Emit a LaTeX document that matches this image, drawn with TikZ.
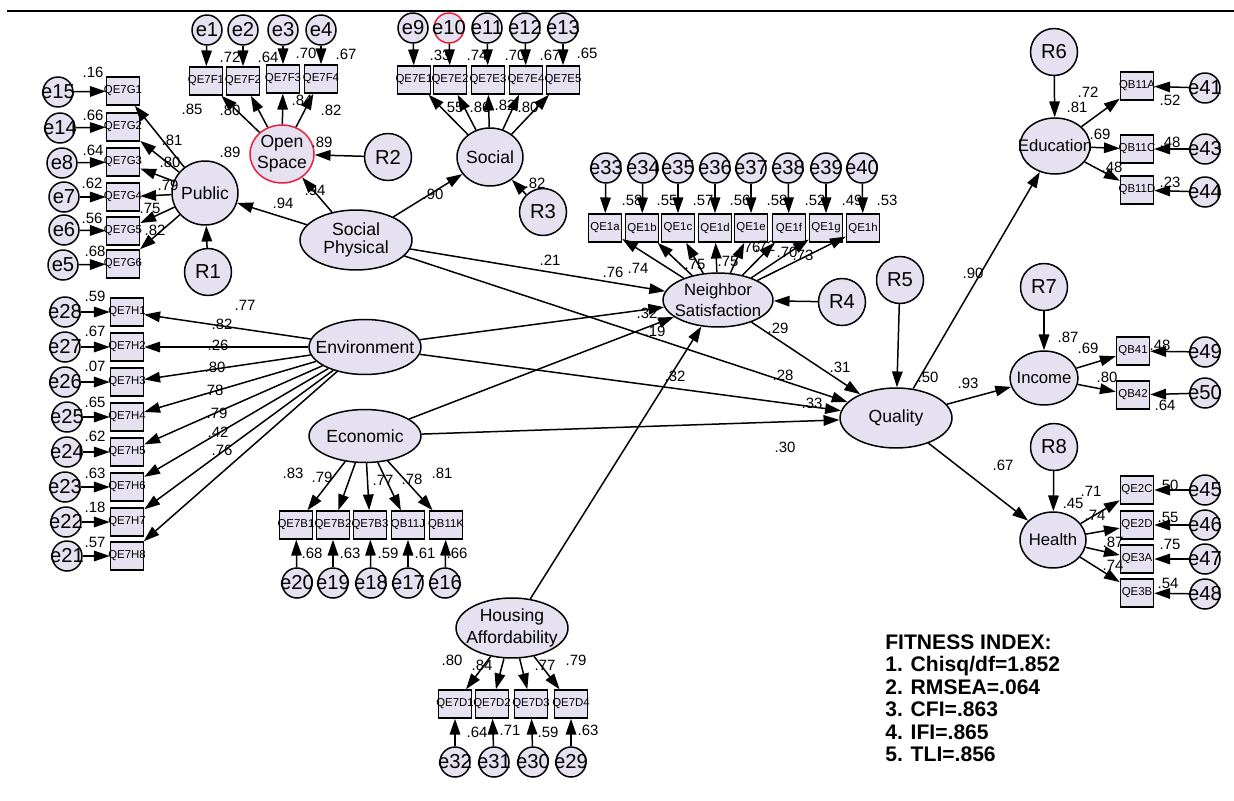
\documentclass[tikz,border=0pt]{standalone}
\usepackage{fontspec}
\setmainfont{Liberation Sans}
\usepackage{tikz}
\usetikzlibrary{shapes.geometric,arrows.meta}

\definecolor{amosfill}{RGB}{230,225,240}
\definecolor{amosred}{RGB}{232,32,64}

\tikzset{
  >={Triangle[length=9pt,width=6pt]},
  nosize/.style={execute at begin node={\hbox to 0pt\bgroup\hss},
                 execute at end node={\hss\egroup}},
  latent/.style={ellipse,draw,fill=amosfill,line width=0.85pt,inner sep=0pt,nosize,
                 font=\fontsize{10}{12}\selectfont},
  obs/.style={rectangle,draw,fill=amosfill,line width=0.85pt,inner sep=0pt,nosize,
              minimum width=0.66cm,minimum height=0.56cm,font=\fontsize{6.5}{7}\selectfont},
  err/.style={circle,draw,fill=amosfill,line width=0.85pt,inner sep=0pt,nosize,
              minimum size=0.6cm,font=\fontsize{11.5}{13}\selectfont},
  resid/.style={circle,draw,fill=amosfill,line width=0.85pt,inner sep=0pt,nosize,
                minimum size=0.94cm,font=\fontsize{11.5}{13}\selectfont},
  coef/.style={inner sep=0pt,font=\fontsize{8.5}{9}\selectfont},
  link/.style={->,line width=0.85pt},
}

\begin{document}
\begin{tikzpicture}[x=0.02cm,y=-0.02cm]
      \useasboundingbox (0,0) rectangle (1234,801);
      \draw[line width=1.5pt] (7,11) -- (1234,11);

      % Open Space
      \node[err] (e1) at (207,30) {e1};
      \node[err] (e2) at (243,30) {e2};
      \node[err] (e3) at (283,30) {e3};
      \node[err] (e4) at (321,30) {e4};
      \node[obs] (f1) at (206,81) {QE7F1};
      \node[obs] (f2) at (243,81) {QE7F2};
      \node[obs] (f3) at (283,79) {QE7F3};
      \node[obs] (f4) at (321,79) {QE7F4};
      \node[latent,draw=amosred,minimum width=1.28cm,minimum height=1.16cm] (osp) at (282,154) {\shortstack{Open\\Space}};
      \node[resid] (r2) at (388,157) {R2};
      \draw[link] (osp) edge (f1) (osp) edge (f2) (osp) edge (f3) (osp) edge (f4);
      \draw[link] (e1) edge (f1) (e2) edge (f2) (e3) edge (f3) (e4) edge (f4);
      \node[coef] (t1) at (230,57) {.72};
      \node[coef] (t2) at (268,57) {.64};
      \node[coef] (t3) at (306,53) {.70};
      \node[coef] (t4) at (346,54) {.67};
      \node[coef] (t5) at (192,109) {.85};
      \node[coef] (t6) at (230,110) {.80};
      \node[coef] (t7) at (302,100) {.84};
      \node[coef] (t8) at (331,110) {.82};
      \node[coef] (t9) at (322,142) {.89};

      % Public
      \node[obs] (g1) at (123,91) {QE7G1};
      \node[obs] (g2) at (123,127) {QE7G2};
      \node[obs] (g3) at (123,162) {QE7G3};
      \node[obs] (g4) at (123,197) {QE7G4};
      \node[obs] (g5) at (123,231) {QE7G5};
      \node[obs] (g6) at (123,264) {QE7G6};
      \node[err] (e15) at (58,92) {e15};
      \node[err] (e14) at (60,128) {e14};
      \node[err] (e8) at (62,163) {e8};
      \node[err] (e7) at (64,197) {e7};
      \node[err] (e6) at (64,230) {e6};
      \node[err] (e5) at (63,265) {e5};
      \node[latent,minimum width=1.32cm,minimum height=1.28cm] (pub) at (205,193) {Public};
      \node[resid] (r1) at (208,272) {R1};
      \draw[link] (pub) edge (g1) (pub) edge (g2) (pub) edge (g3) (pub) edge (g4) (pub) edge (g5) (pub) edge (g6);
      \draw[link] (e15) edge (g1) (e14) edge (g2) (e8) edge (g3) (e7) edge (g4) (e6) edge (g5) (e5) edge (g6);
      \node[coef] (t10) at (93,72) {.16};
      \node[coef] (t11) at (93,115) {.66};
      \node[coef] (t12) at (93,150) {.64};
      \node[coef] (t13) at (92,183) {.62};
      \node[coef] (t14) at (92,218) {.56};
      \node[coef] (t15) at (95,251) {.68};
      \node[coef] (t16) at (172,140) {.81};
      \node[coef] (t17) at (170,162) {.80};
      \node[coef] (t18) at (168,185) {.79};
      \node[coef] (t19) at (150,208) {.75};
      \node[coef] (t20) at (155,230) {.82};
      \node[coef] (t21) at (230,152) {.89};

      % Social
      \node[err] (e9) at (413,28) {e9};
      \node[err,draw=amosred] (e10) at (449,28) {e10};
      \node[err] (e11) at (487,28) {e11};
      \node[err] (e12) at (525,28) {e12};
      \node[err] (e13) at (563,28) {e13};
      \node[obs] (s1) at (414,80) {QE7E1};
      \node[obs] (s2) at (450,80) {QE7E2};
      \node[obs] (s3) at (488,80) {QE7E3};
      \node[obs] (s4) at (526,80) {QE7E4};
      \node[obs] (s5) at (563,80) {QE7E5};
      \node[latent,minimum width=1.32cm,minimum height=1.16cm] (soc) at (490,157) {Social};
      \node[resid] (r3) at (543,212) {R3};
      \draw[link] (soc) edge (s1) (soc) edge (s2) (soc) edge (s3) (soc) edge (s4) (soc) edge (s5);
      \draw[link] (e9) edge (s1) (e10) edge (s2) (e11) edge (s3) (e12) edge (s4) (e13) edge (s5);
      \node[coef] (t22) at (440,55) {.33};
      \node[coef] (t23) at (477,55) {.74};
      \node[coef] (t24) at (515,55) {.70};
      \node[coef] (t25) at (550,55) {.67};
      \node[coef] (t26) at (587,53) {.65};
      \node[coef] (t27) at (453,107) {.55};
      \node[coef] (t28) at (480,107) {.86};
      \node[coef] (t29) at (505,105) {.82};
      \node[coef] (t30) at (528,107) {.80};
      \node[coef] (t31) at (535,183) {.82};

      % Social Physical
      \node[latent,minimum width=2.24cm,minimum height=1.2cm] (sp) at (356,240) {\shortstack{Social\\Physical}};
      \node[coef] (t32) at (283,203) {.94};
      \node[coef] (t33) at (315,190) {.94};
      \node[coef] (t34) at (433,194) {.90};

      % Neighbor Satisfaction
      \node[err] (e33) at (606,168) {e33};
      \node[err] (e34) at (643,168) {e34};
      \node[err] (e35) at (678,168) {e35};
      \node[err] (e36) at (715,168) {e36};
      \node[err] (e37) at (751,168) {e37};
      \node[err] (e38) at (788,168) {e38};
      \node[err] (e39) at (826,168) {e39};
      \node[err] (e40) at (862,168) {e40};
      \node[obs] (n1) at (605,228) {QE1a};
      \node[obs] (n2) at (642,228) {QE1b};
      \node[obs] (n3) at (678,228) {QE1c};
      \node[obs] (n4) at (715,228) {QE1d};
      \node[obs] (n5) at (751,228) {QE1e};
      \node[obs] (n6) at (789,228) {QE1f};
      \node[obs] (n7) at (826,228) {QE1g};
      \node[obs] (n8) at (863,228) {QE1h};
      \node[latent,minimum width=2.2cm,minimum height=1.08cm,font=\fontsize{9.5}{11}\selectfont] (nbr) at (718,300) {\shortstack{Neighbor\\Satisfaction}};
      \node[resid] (r4) at (842,302) {R4};
      \draw[link] (nbr) edge (n1) (nbr) edge (n2) (nbr) edge (n3) (nbr) edge (n4) (nbr) edge (n5) (nbr) edge (n6) (nbr) edge (n7) (nbr) edge (n8);
      \draw[link] (e33) edge (n1) (e34) edge (n2) (e35) edge (n3) (e36) edge (n4) (e37) edge (n5) (e38) edge (n6) (e39) edge (n7) (e40) edge (n8);
      \node[coef] (t35) at (632,200) {.58};
      \node[coef] (t36) at (667,200) {.55};
      \node[coef] (t37) at (703,200) {.57};
      \node[coef] (t38) at (740,200) {.56};
      \node[coef] (t39) at (777,200) {.58};
      \node[coef] (t40) at (815,200) {.52};
      \node[coef] (t41) at (852,200) {.49};
      \node[coef] (t42) at (887,200) {.53};
      \node[coef] (t43) at (613,272) {.76};
      \node[coef] (t44) at (638,268) {.74};
      \node[coef] (t45) at (695,264) {.75};
      \node[coef] (t46) at (728,261) {.75};
      \node[coef] (t47) at (750,247) {.76};
      \node[coef] (t48) at (765,246) {.72};
      \node[coef] (t49) at (787,252) {.70};
      \node[coef] (t50) at (803,255) {.73};

      % Environment
      \node[obs] (h1) at (127,312) {QE7H1};
      \node[obs] (h2) at (127,347) {QE7H2};
      \node[obs] (h3) at (127,382) {QE7H3};
      \node[obs] (h4) at (127,417) {QE7H4};
      \node[obs] (h5) at (127,452) {QE7H5};
      \node[obs] (h6) at (127,487) {QE7H6};
      \node[obs] (h7) at (127,522) {QE7H7};
      \node[obs] (h8) at (127,556) {QE7H8};
      \node[err] (e28) at (65,312) {e28};
      \node[err] (e27) at (65,347) {e27};
      \node[err] (e26) at (65,382) {e26};
      \node[err] (e25) at (67,417) {e25};
      \node[err] (e24) at (67,452) {e24};
      \node[err] (e23) at (65,487) {e23};
      \node[err] (e22) at (66,522) {e22};
      \node[err] (e21) at (67,556) {e21};
      \node[latent,minimum width=2.24cm,minimum height=1.1cm] (env) at (365,347) {Environment};
      \draw[link] (env) edge (h1) (env) edge (h2) (env) edge (h3) (env) edge (h4) (env) edge (h5) (env) edge (h6) (env) edge (h7) (env) edge (h8);
      \draw[link] (e28) edge (h1) (e27) edge (h2) (e26) edge (h3) (e25) edge (h4) (e24) edge (h5) (e23) edge (h6) (e22) edge (h7) (e21) edge (h8);
      \node[coef] (t51) at (95,296) {.59};
      \node[coef] (t52) at (95,331) {.67};
      \node[coef] (t53) at (95,366) {.07};
      \node[coef] (t54) at (95,402) {.65};
      \node[coef] (t55) at (95,436) {.62};
      \node[coef] (t56) at (95,473) {.63};
      \node[coef] (t57) at (95,507) {.18};
      \node[coef] (t58) at (95,542) {.57};
      \node[coef] (t59) at (245,305) {.77};
      \node[coef] (t60) at (222,324) {.82};
      \node[coef] (t61) at (218,345) {.26};
      \node[coef] (t62) at (215,367) {.80};
      \node[coef] (t63) at (213,390) {.78};
      \node[coef] (t64) at (217,413) {.79};
      \node[coef] (t65) at (218,432) {.42};
      \node[coef] (t66) at (222,450) {.76};

      % Economic
      \node[latent,minimum width=2.24cm,minimum height=1.06cm] (eco) at (365,436) {Economic};
      \node[obs] (b1) at (296,525) {QE7B1};
      \node[obs] (b2) at (333,525) {QE7B2};
      \node[obs] (b3) at (370,525) {QE7B3};
      \node[obs] (b4) at (408,525) {QB11J};
      \node[obs] (b5) at (446,525) {QB11K};
      \node[err] (e20) at (297,583) {e20};
      \node[err] (e19) at (333,583) {e19};
      \node[err] (e18) at (371,583) {e18};
      \node[err] (e17) at (408,583) {e17};
      \node[err] (e16) at (445,583) {e16};
      \draw[link] (eco) edge (b1) (eco) edge (b2) (eco) edge (b3) (eco) edge (b4) (eco) edge (b5);
      \draw[link] (e20) edge (b1) (e19) edge (b2) (e18) edge (b3) (e17) edge (b4) (e16) edge (b5);
      \node[coef] (t67) at (293,473) {.83};
      \node[coef] (t68) at (322,477) {.79};
      \node[coef] (t69) at (383,480) {.77};
      \node[coef] (t70) at (412,479) {.78};
      \node[coef] (t71) at (442,473) {.81};
      \node[coef] (t72) at (312,553) {.68};
      \node[coef] (t73) at (350,553) {.63};
      \node[coef] (t74) at (388,553) {.59};
      \node[coef] (t75) at (425,553) {.61};
      \node[coef] (t76) at (457,553) {.66};

      % Housing Affordability
      \node[latent,minimum width=2.24cm,minimum height=1.2cm] (hou) at (512,628) {\shortstack{Housing\\Affordability}};
      \node[obs] (d1) at (455,704) {QE7D1};
      \node[obs] (d2) at (492,704) {QE7D2};
      \node[obs] (d3) at (531,704) {QE7D3};
      \node[obs] (d4) at (571,704) {QE7D4};
      \node[err] (e32) at (455,762) {e32};
      \node[err] (e31) at (494,762) {e31};
      \node[err] (e30) at (533,762) {e30};
      \node[err] (e29) at (571,762) {e29};
      \draw[link] (hou) edge (d1) (hou) edge (d2) (hou) edge (d3) (hou) edge (d4);
      \draw[link] (e32) edge (d1) (e31) edge (d2) (e30) edge (d3) (e29) edge (d4);
      \node[coef] (t77) at (452,660) {.80};
      \node[coef] (t78) at (482,665) {.84};
      \node[coef] (t79) at (545,665) {.77};
      \node[coef] (t80) at (576,660) {.79};
      \node[coef] (t81) at (477,732) {.64};
      \node[coef] (t82) at (510,730) {.71};
      \node[coef] (t83) at (548,732) {.59};
      \node[coef] (t84) at (588,730) {.63};

      % Quality
      \node[latent,minimum width=2.24cm,minimum height=1.2cm] (qual) at (896,418) {Quality};
      \node[resid] (r5) at (900,280) {R5};
      \node[coef] (t85) at (928,377) {.50};

      % Education
      \node[latent,minimum width=1.4cm,minimum height=1.12cm,font=\fontsize{9.5}{11}\selectfont] (edu) at (1055,146) {Education};
      \node[resid] (r6) at (1054,52) {R6};
      \node[obs] (q1) at (1137,86) {QB11A};
      \node[obs] (q2) at (1137,149) {QB11C};
      \node[obs] (q3) at (1137,190) {QB11D};
      \node[err] (e41) at (1205,88) {e41};
      \node[err] (e43) at (1205,149) {e43};
      \node[err] (e44) at (1205,192) {e44};
      \draw[link] (edu) edge (q1) (edu) edge (q2) (edu) edge (q3);
      \draw[link] (e41) edge (q1) (e43) edge (q2) (e44) edge (q3);
      \node[coef] (t86) at (1088,92) {.72};
      \node[coef] (t87) at (1077,107) {.81};
      \node[coef] (t88) at (1100,134) {.69};
      \node[coef] (t89) at (1112,167) {.48};
      \node[coef] (t90) at (1170,100) {.52};
      \node[coef] (t91) at (1170,142) {.48};
      \node[coef] (t92) at (1170,182) {.23};

      % Income
      \node[latent,minimum width=1.36cm,minimum height=1.08cm,font=\fontsize{9.5}{11}\selectfont] (inc) at (1044,378) {Income};
      \node[resid] (r7) at (1044,287) {R7};
      \node[obs] (p1) at (1133,351) {QB41};
      \node[obs] (p2) at (1133,395) {QB42};
      \node[err] (e49) at (1205,352) {e49};
      \node[err] (e50) at (1205,393) {e50};
      \draw[link] (inc) edge (p1) (inc) edge (p2);
      \draw[link] (e49) edge (p1) (e50) edge (p2);
      \node[coef] (t93) at (1068,337) {.87};
      \node[coef] (t94) at (1088,348) {.69};
      \node[coef] (t95) at (1160,345) {.48};
      \node[coef] (t96) at (1107,377) {.80};
      \node[coef] (t97) at (1165,405) {.64};

      % Health
      \node[latent,minimum width=1.32cm,minimum height=1.12cm,font=\fontsize{9.5}{11}\selectfont] (hlt) at (1053,540) {Health};
      \node[resid] (r8) at (1054,447) {R8};
      \node[obs] (w1) at (1137,490) {QE2C};
      \node[obs] (w2) at (1137,525) {QE2D};
      \node[obs] (w3) at (1137,559) {QE3A};
      \node[obs] (w4) at (1137,593) {QE3B};
      \node[err] (e45) at (1205,490) {e45};
      \node[err] (e46) at (1205,525) {e46};
      \node[err] (e47) at (1205,559) {e47};
      \node[err] (e48) at (1205,594) {e48};
      \draw[link] (hlt) edge (w1) (hlt) edge (w2) (hlt) edge (w3) (hlt) edge (w4);
      \draw[link] (e45) edge (w1) (e46) edge (w2) (e47) edge (w3) (e48) edge (w4);
      \node[coef] (t98) at (1073,503) {.45};
      \node[coef] (t99) at (1091,491) {.71};
      \node[coef] (t100) at (1095,515) {.74};
      \node[coef] (t101) at (1113,542) {.87};
      \node[coef] (t102) at (1113,565) {.74};
      \node[coef] (t103) at (1168,485) {.50};
      \node[coef] (t104) at (1168,517) {.55};
      \node[coef] (t105) at (1170,544) {.75};
      \node[coef] (t106) at (1168,583) {.54};

      % structural paths
      \draw[link] (sp) edge (pub) (sp) edge (osp) (sp) edge (soc) (sp) edge (nbr) (sp) edge (qual);
      \draw[link] (env) edge (nbr) (env) edge (qual);
      \draw[link] (eco) edge (nbr) (eco) edge (qual);
      \draw[link] (hou) edge (nbr);
      \draw[link] (nbr) edge (qual);
      \draw[link] (qual) edge (edu) (qual) edge (inc) (qual) edge (hlt);
      \draw[link] (r1) edge (pub) (r2) edge (osp) (r3) edge (soc) (r4) edge (nbr) (r5) edge (qual) (r6) edge (edu) (r7) edge (inc) (r8) edge (hlt);
      \node[coef] (t107) at (550,260) {.21};
      \node[coef] (t108) at (647,313) {.32};
      \node[coef] (t109) at (655,331) {.19};
      \node[coef] (t110) at (778,328) {.29};
      \node[coef] (t111) at (675,376) {.32};
      \node[coef] (t112) at (783,375) {.28};
      \node[coef] (t113) at (840,367) {.31};
      \node[coef] (t114) at (812,403) {.33};
      \node[coef] (t115) at (785,447) {.30};
      \node[coef] (t116) at (973,273) {.90};
      \node[coef] (t117) at (968,383) {.93};
      \node[coef] (t118) at (1003,465) {.67};

      % fit
      \node[anchor=north west,align=left,inner sep=0pt,font=\bfseries\fontsize{12}{12.8}\selectfont] (fit) at (885,634)
        {FITNESS INDEX:\\1. Chisq/df=1.852\\2. RMSEA=.064\\3. CFI=.863\\4. IFI=.865\\5. TLI=.856};
\end{tikzpicture}
\end{document}
